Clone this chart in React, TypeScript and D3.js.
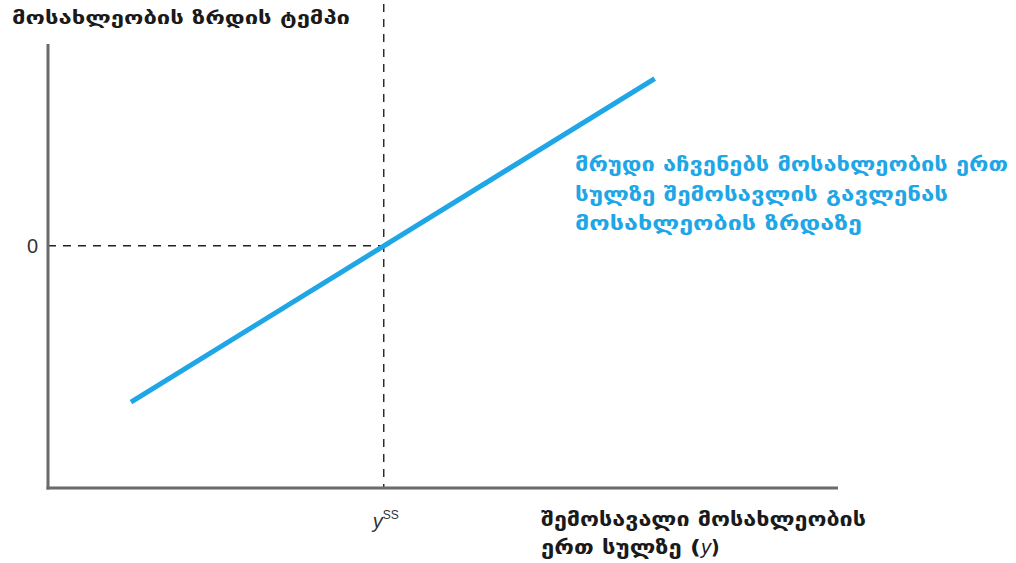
import React from "react";
import * as d3 from "d3";

const xDomain = [0, 100];
const yDomain = [-6, 5];
const ySS = 42.5;
const curveX = [10.5, 76.8];
const curveY = [-3.87, 4.14];
const yAxisTitle = "მოსახლეობის ზრდის ტემპი";
const xAxisTitle = ["შემოსავალი მოსახლეობის", "ერთ სულზე ("];
const annotation = [
  "მრუდი აჩვენებს მოსახლეობის ერთ",
  "სულზე შემოსავლის გავლენას",
  "მოსახლეობის ზრდაზე",
];
const annotationWidths = [433, 373, 287];
const zeroLabel = "0";

export default function App() {
  const W = 1016, H = 563;
  const x = d3.scaleLinear().domain(xDomain).range([48, 838]);
  const y = d3.scaleLinear().domain(yDomain).range([488, 44]);
  const pts = curveX.map((v, i) => [x(v), y(curveY[i])] as [number, number]);
  const line = d3.line()(pts) || "";
  const font = "'DejaVu Sans', sans-serif";
  const blue = "#1ea6e6";
  return (
    <svg width={W} height={H} style={{ position: "absolute", left: 0, top: 0, background: "#fff" }}>
      <line x1={x(ySS)} x2={x(ySS)} y1={4} y2={y(yDomain[0])} stroke="#222" strokeWidth={1.4} strokeDasharray="8,7" />
      <line x1={x(xDomain[0])} x2={x(ySS)} y1={y(0)} y2={y(0)} stroke="#222" strokeWidth={1.4} strokeDasharray="8,7" />
      <line x1={x(xDomain[0])} x2={x(xDomain[0])} y1={y(yDomain[1])} y2={y(yDomain[0]) + 1.5} stroke="#6b6b6b" strokeWidth={3} />
      <line x1={x(xDomain[0]) - 1.5} x2={x(xDomain[1])} y1={y(yDomain[0])} y2={y(yDomain[0])} stroke="#6b6b6b" strokeWidth={3} />
      <path d={line} stroke={blue} strokeWidth={5} fill="none" />
      <text x={12} y={24} fontFamily={font} fontWeight="bold" fontSize={17} fill="#1a1a1a" textLength={338} lengthAdjust="spacingAndGlyphs">{yAxisTitle}</text>
      <text x={38} y={253} fontFamily="'Liberation Sans', sans-serif" fontSize={20} fill="#333" textAnchor="end">{zeroLabel}</text>
      <text x={x(ySS) + 2} y={528} fontFamily="'Liberation Sans', sans-serif" fontSize={20} fontStyle="italic" fill="#333" textAnchor="middle">y<tspan fontSize={12} dy={-9} fontStyle="normal">SS</tspan></text>
      {annotation.map((t, i) => (
        <text key={i} x={575} y={171 + i * 29.5} fontFamily={font} fontWeight="bold" fontSize={19} fill={blue} textLength={annotationWidths[i]} lengthAdjust="spacingAndGlyphs">{t}</text>
      ))}
      <text x={541} y={526} fontFamily={font} fontWeight="bold" fontSize={19} fill="#1a1a1a" textLength={325} lengthAdjust="spacingAndGlyphs">{xAxisTitle[0]}</text>
      <text x={541} y={554} fontFamily={font} fontWeight="bold" fontSize={19} fill="#1a1a1a"><tspan textLength={160} lengthAdjust="spacingAndGlyphs">{xAxisTitle[1]}</tspan><tspan fontFamily="'Liberation Sans', sans-serif" fontStyle="italic" fontWeight="normal" fontSize={20}>y</tspan>)</text>
    </svg>
  );
}
